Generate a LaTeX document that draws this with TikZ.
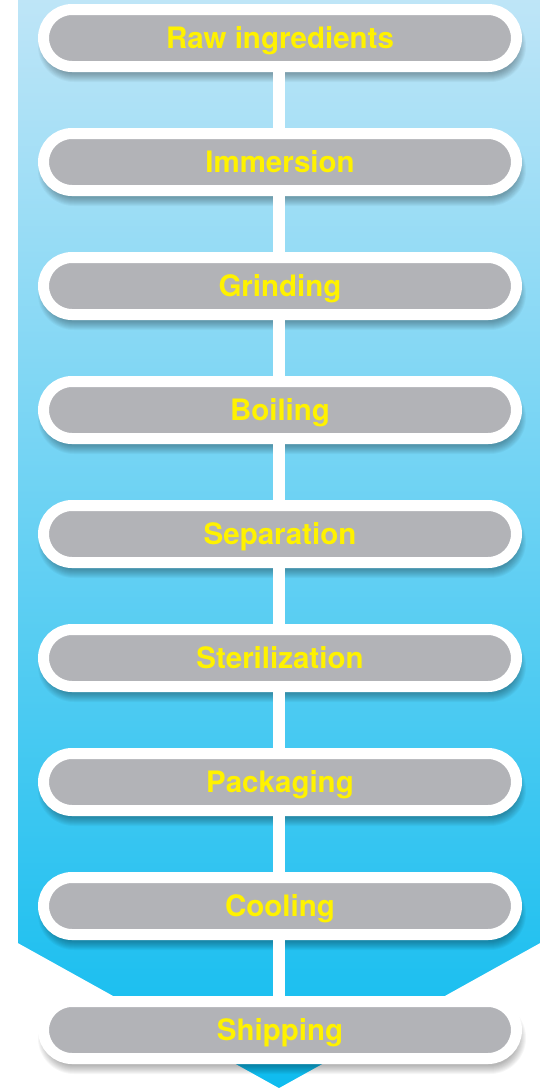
\documentclass[tikz,border=0pt]{standalone}
\usepackage{fontspec}
\setmainfont{TeX Gyre Heros}
\definecolor{topblue}{RGB}{190,229,247}
\definecolor{botblue}{RGB}{14,188,239}
\definecolor{pillgray}{RGB}{178,179,183}
\definecolor{txtyellow}{RGB}{255,242,0}
\tikzset{
  stage/.style={draw=white, line width=11pt, fill=pillgray,
    minimum width=473pt, minimum height=57pt, rounded corners=28.5pt,
    inner sep=0pt, text=txtyellow, text height=21pt, text depth=0pt,
    font=\fontsize{29.5}{34}\selectfont\bfseries},
  shadowlayer/.style={fill=black, fill opacity=0.035},
  link/.style={draw=white, line width=12pt}
}
\begin{document}
\begin{tikzpicture}[x=1pt,y=1pt]
\useasboundingbox (0,0) rectangle (552,-1088);
\shade[top color=topblue, bottom color=botblue]
  (18,0) -- (540,0) -- (540,-943) -- (279,-1088) -- (18,-943) -- cycle;
% soft shadows under the stages
\foreach \yy in {38,162,286,410,534,658,782,906,1030}
  \foreach \r in {0,2,...,16}
    \fill[shadowlayer, rounded corners={28+\r/2}]
      (280-236-\r/2+2, -\yy-8+28+\r/2) rectangle (280+236+\r/2+2, -\yy-8-28-\r/2);
\node[stage] (s1) at (280,-38)   {Raw ingredients};
\node[stage] (s2) at (280,-162)  {Immersion};
\node[stage] (s3) at (280,-286)  {Grinding};
\node[stage] (s4) at (280,-410)  {Boiling};
\node[stage] (s5) at (280,-534)  {Separation};
\node[stage] (s6) at (280,-658)  {Sterilization};
\node[stage] (s7) at (280,-782)  {Packaging};
\node[stage] (s8) at (280,-906)  {Cooling};
\node[stage] (s9) at (280,-1030) {Shipping};
\foreach \a/\b in {s1/s2,s2/s3,s3/s4,s4/s5,s5/s6,s6/s7,s7/s8,s8/s9}
  \draw[link] ([xshift=-1pt]\a.south) -- ([xshift=-1pt]\b.north);
\end{tikzpicture}
\end{document}
